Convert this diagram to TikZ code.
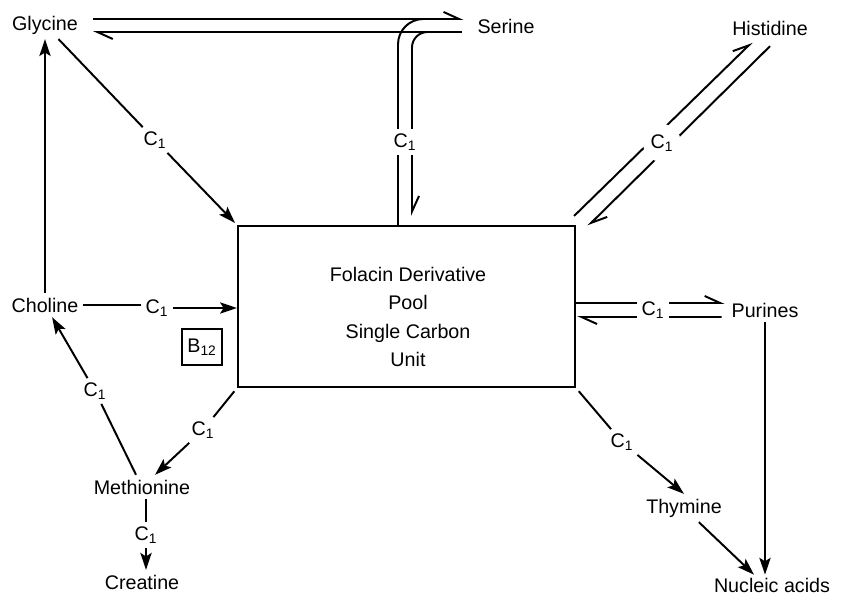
\documentclass[tikz,border=0pt]{standalone}
\usepackage{fontspec}
\setmainfont{Liberation Sans}
\usetikzlibrary{arrows.meta,calc}

\begin{document}
\begin{tikzpicture}[x=0.025cm,y=-0.025cm,
  txt/.style={font=\fontsize{14}{20}\selectfont},
  cone/.style={txt,inner sep=3pt},
  conw/.style={cone,fill=white},
  conn/.style={line width=1.4pt},
  arr/.style={conn,-{Stealth[length=12pt,width=8pt,inset=2.5pt]}},
  harp/.style={conn,-{Straight Barb[harpoon,length=11pt,width=10pt]}}]
  \useasboundingbox (0,0) rectangle (847,597);
  \node[txt] (gly) at (45,25) {Glycine};
  \node[txt] (ser) at (506,26) {Serine};
  \node[txt] (his) at (770,28) {Histidine};
  \node[txt] (cho) at (45,305) {Choline};
  \node[txt] (pur) at (765,310) {Purines};
  \node[txt] (met) at (142,487) {Methionine};
  \node[txt] (cre) at (142,582) {Creatine};
  \node[txt] (thy) at (684,508) {Thymine};
  \node[txt,inner sep=2pt] (nuc) at (772,585) {Nucleic acids};
  \node[draw,line width=1.4pt,minimum width=8.425cm,minimum height=4.025cm] (pool) at (406.5,306.5) {};
  \node[txt,align=center] (pooltxt) at (408,317) {Folacin Derivative\\Pool\\Single Carbon\\Unit};
  \node[txt,draw,line width=1.5pt,inner sep=2pt,minimum width=1cm,minimum height=0.9cm] (b12) at (202,347) {B\textsubscript{12}};

  \draw[harp] ($(gly.east)+(10,-6)$) -- ($(ser.west)+(-9,-7)$);
  \draw[harp] ($(ser.west)+(-11,6)$) -- ($(gly.east)+(10,7)$);
  \draw[conn,rounded corners=18pt] ($(pool.north)+(-8.5,0)$) |- ($(ser.west)+(-30,-7)$);
  \draw[harp,rounded corners=11pt] ($(ser.west)+(-30,6)$) -| ($(pool.north)+(5.5,-9)$);
  \node[conw] (c1ser) at (405,142) {C\textsubscript{1}};

  \draw[harp] ($(pool.north east)+(-2,-9)$) -- ($(his.south)+(-18,2)$);
  \draw[harp] ($(his.south)+(0,6)$) -- ($(pool.north east)+(12,1)$);
  \node[conw,circle,inner sep=2.5pt] (c1his) at (662,143) {C\textsubscript{1}};

  \draw[harp] ($(pool.east)+(0,-3.5)$) -- ($(pur.west)+(-2,-7)$);
  \draw[harp] ($(pur.west)+(-5,7)$) -- ($(pool.east)+(1,10.5)$);
  \node[conw] (c1pur) at (653,310) {C\textsubscript{1}};

  \node[cone] (c1gly) at (155,140) {C\textsubscript{1}};
  \draw[conn] (gly) -- (c1gly);
  \draw[arr,shorten >=2pt] (c1gly) -- (pool.north west);
  \draw[arr] (cho) -- (gly);

  \node[cone] (c1cho) at (157,308) {C\textsubscript{1}};
  \draw[conn] (cho) -- (cho -| c1cho.west);
  \draw[arr] (c1cho) -- (c1cho -| pool.west);

  \node[cone] (c1met) at (95,391) {C\textsubscript{1}};
  \draw[conn] (met) -- (c1met);
  \draw[arr] (c1met) -- (cho);

  \node[cone] (c1pool) at (203,430) {C\textsubscript{1}};
  \draw[conn,shorten <=3pt] (pool.south west) -- (c1pool);
  \draw[arr] (c1pool) -- (met);

  \node[cone] (c1cre) at (146,535) {C\textsubscript{1}};
  \draw[conn] (met.south -| c1cre) -- (c1cre);
  \draw[arr] (c1cre) -- (cre.north -| c1cre);

  \node[cone] (c1thy) at (622,442) {C\textsubscript{1}};
  \draw[conn,shorten <=3pt] (pool.south east) -- (c1thy);
  \draw[arr] (c1thy) -- (thy.north);
  \draw[arr] (thy) -- ($(nuc.north)+(-18,0)$);
  \draw[arr] (pur.south) -- (pur.south |- nuc.north);
\end{tikzpicture}
\end{document}
